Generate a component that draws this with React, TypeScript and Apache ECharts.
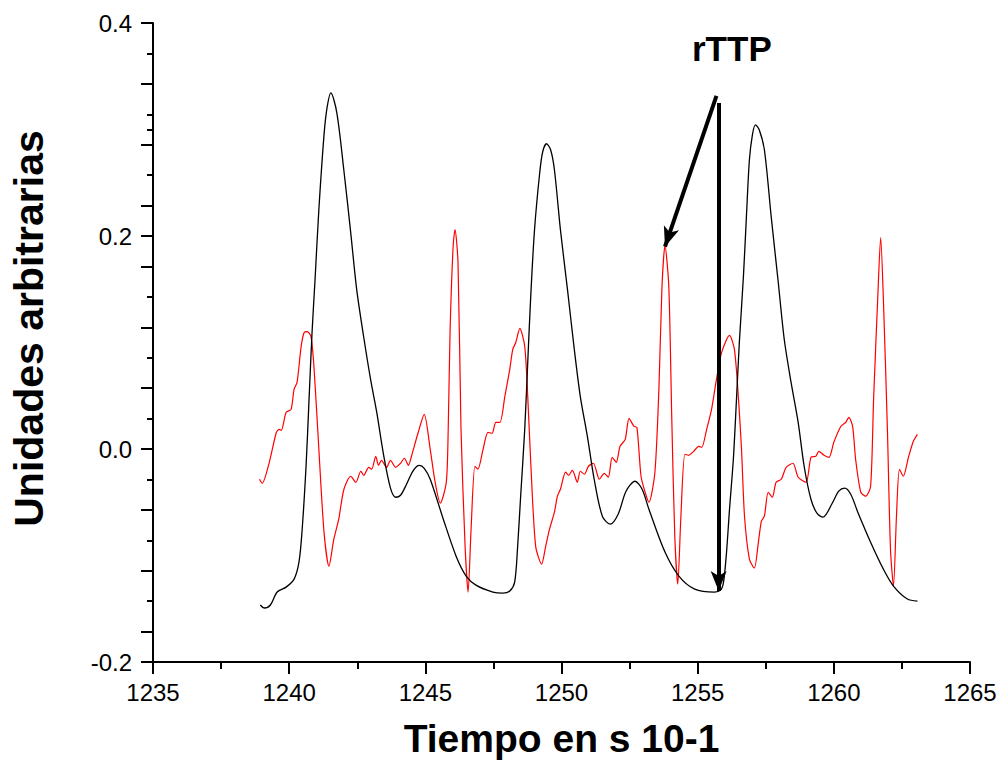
import React, { useEffect, useRef } from "react";
import * as echarts from "echarts";

const FONT = "'Liberation Sans', Arial, Helvetica, sans-serif";

// x (Tiempo en s 10-1), y (Unidades arbitrarias) — black curve
const blackX = [
  1238.94, 1239.09, 1239.31, 1239.56, 1239.89, 1240.18, 1240.36, 1240.47, 1240.62, 1240.73,
  1240.84, 1240.95, 1241.09, 1241.28, 1241.39, 1241.53, 1241.75, 1242.01, 1242.26, 1242.48,
  1242.74, 1242.99, 1243.21, 1243.47, 1243.72, 1243.91, 1244.09, 1244.31, 1244.56, 1244.78,
  1244.96, 1245.18, 1245.66, 1246.13, 1246.5, 1246.86, 1247.48, 1247.85, 1248.1, 1248.28,
  1248.39, 1248.5, 1248.65, 1248.76, 1248.87, 1249.01, 1249.2, 1249.31, 1249.45, 1249.6,
  1249.74, 1249.96, 1250.22, 1250.47, 1250.69, 1250.95, 1251.2, 1251.5, 1251.79, 1252.08,
  1252.37, 1252.7, 1252.96, 1253.21, 1253.8, 1254.31, 1254.89, 1255.62, 1255.84, 1255.95,
  1256.06, 1256.17, 1256.31, 1256.42, 1256.53, 1256.68, 1256.79, 1256.9, 1257.01, 1257.12,
  1257.26, 1257.45, 1257.7, 1257.96, 1258.18, 1258.43, 1258.69, 1258.91, 1259.16, 1259.38,
  1259.6, 1259.96, 1260.18, 1260.4, 1260.62, 1260.88, 1261.35, 1261.82, 1262.19, 1262.7,
  1263.07,
];
const blackY = [
  -0.1465, -0.1493, -0.1465, -0.1343, -0.1297, -0.1222, -0.1062, -0.0781, -0.0162, 0.0466,
  0.1094, 0.159, 0.2247, 0.295, 0.3203, 0.3344, 0.3157, 0.2613, 0.2032, 0.1497,
  0.1047, 0.0653, 0.0353, -0.0059, -0.0368, -0.0453, -0.0434, -0.0331, -0.02, -0.0153,
  -0.0181, -0.0284, -0.0659, -0.1006, -0.1193, -0.1278, -0.1343, -0.1353, -0.1334, -0.125,
  -0.0912, -0.0443, 0.0185, 0.0813, 0.1432, 0.206, 0.2594, 0.2791, 0.2866, 0.281,
  0.2622, 0.206, 0.1497, 0.0935, 0.0494, 0.0119, -0.0284, -0.0631, -0.0706, -0.0612,
  -0.0396, -0.0303, -0.0378, -0.0565, -0.0968, -0.1193, -0.1315, -0.1343, -0.1325, -0.125,
  -0.0968, -0.0565, -0.0097, 0.0438, 0.1, 0.1619, 0.2182, 0.2716, 0.295, 0.3044,
  0.2997, 0.281, 0.2182, 0.1563, 0.1028, 0.0625, 0.025, -0.0162, -0.0472, -0.0603,
  -0.064, -0.05, -0.0396, -0.0368, -0.0425, -0.0593, -0.0875, -0.1128, -0.1287, -0.1409,
  -0.1428,
];

// red curve
const redX = [
  1238.91, 1239.01, 1239.27, 1239.53, 1239.64, 1239.71, 1239.89, 1240.07, 1240.18, 1240.29,
  1240.44, 1240.55, 1240.66, 1240.8, 1240.91, 1241.09, 1241.28, 1241.46, 1241.64, 1241.82,
  1242.01, 1242.26, 1242.45, 1242.63, 1242.74, 1242.92, 1243.03, 1243.18, 1243.28, 1243.39,
  1243.58, 1243.72, 1243.91, 1244.09, 1244.23, 1244.38, 1244.49, 1244.74, 1244.96, 1245.18,
  1245.36, 1245.55, 1245.77, 1245.84, 1245.91, 1246.02, 1246.09, 1246.2, 1246.31, 1246.46,
  1246.57, 1246.68, 1246.82, 1246.93, 1247.12, 1247.3, 1247.45, 1247.59, 1247.74, 1247.92,
  1248.1, 1248.21, 1248.32, 1248.47, 1248.65, 1248.76, 1248.87, 1249.05, 1249.27, 1249.42,
  1249.56, 1249.74, 1249.85, 1249.96, 1250.15, 1250.26, 1250.4, 1250.58, 1250.69, 1250.84,
  1250.99, 1251.17, 1251.39, 1251.57, 1251.72, 1251.86, 1252.01, 1252.15, 1252.34, 1252.48,
  1252.66, 1252.77, 1252.92, 1253.07, 1253.21, 1253.43, 1253.58, 1253.69, 1253.8, 1253.94,
  1254.05, 1254.16, 1254.27, 1254.38, 1254.53, 1254.67, 1254.85, 1255.04, 1255.15, 1255.33,
  1255.51, 1255.69, 1255.88, 1256.17, 1256.35, 1256.5, 1256.61, 1256.72, 1256.9, 1257.08,
  1257.23, 1257.34, 1257.45, 1257.59, 1257.74, 1257.88, 1258.07, 1258.25, 1258.5, 1258.69,
  1258.98, 1259.16, 1259.34, 1259.45, 1259.64, 1259.82, 1260.0, 1260.26, 1260.44, 1260.55,
  1260.69, 1260.8, 1260.99, 1261.17, 1261.35, 1261.46, 1261.61, 1261.72, 1261.82, 1261.97,
  1262.08, 1262.19, 1262.3, 1262.41, 1262.55, 1262.74, 1262.92, 1263.07,
];
const redY = [
  -0.0284, -0.0322, -0.0125, 0.0157, 0.0185, 0.0175, 0.0344, 0.0372, 0.056, 0.0625,
  0.0963, 0.1094, 0.1103, 0.1057, 0.0775, -0.0003, -0.0781, -0.11, -0.0847, -0.0659,
  -0.0378, -0.0256, -0.0312, -0.0209, -0.0247, -0.0172, -0.019, -0.0068, -0.0153, -0.0106,
  -0.0172, -0.0106, -0.0172, -0.0134, -0.0087, -0.0153, -0.0068, 0.0157, 0.0325, -0.0003,
  -0.0312, -0.0509, -0.0312, 0.0185, 0.1122, 0.19, 0.206, 0.175, 0.0185, -0.0912,
  -0.1343, -0.0753, -0.0162, -0.019, -0.0003, 0.0157, 0.0147, 0.025, 0.025, 0.0494,
  0.0747, 0.0935, 0.1, 0.1132, 0.0963, 0.0494, -0.0125, -0.0912, -0.1081, -0.0912,
  -0.0753, -0.0593, -0.0443, -0.0378, -0.0218, -0.0247, -0.02, -0.0312, -0.0209, -0.0237,
  -0.0162, -0.0134, -0.0284, -0.0228, -0.0265, -0.0078, -0.0125, 0.0025, 0.0091, 0.0288,
  0.0213, 0.0203, -0.0256, -0.0406, -0.05, -0.0218, 0.0588, 0.1525, 0.191, 0.1525,
  0.0278, -0.0818, -0.1268, -0.0659, -0.005, -0.0059, -0.0022, 0.0025, 0.0016, 0.0185,
  0.0372, 0.0653, 0.0907, 0.1066, 0.0935, 0.0466, -0.0003, -0.0631, -0.1034, -0.1118,
  -0.0875, -0.0678, -0.0631, -0.0406, -0.0453, -0.0312, -0.0284, -0.0172, -0.0134, -0.0265,
  -0.0312, -0.0078, -0.0068, -0.0022, -0.0059, -0.0078, 0.0063, 0.0213, 0.025, 0.0297,
  0.0213, -0.0097, -0.0406, -0.0443, -0.035, 0.0466, 0.1403, 0.1985, 0.1403, 0.0157,
  -0.094, -0.1287, -0.0631, -0.019, -0.0256, -0.0078, 0.0072, 0.0138,
];

// axis ticks
const xTickInterval = 5;
const yLabelInterval = 0.2;
const yLongTicks = [-0.2, -0.1714, -0.1143, -0.0571, 0, 0.0571, 0.1143, 0.1714, 0.2, 0.2286, 0.2857, 0.3429, 0.4];
const yShortTicks = [-0.1429, -0.0857, -0.0286, 0.0286, 0.0857, 0.1429, 0.2571, 0.3, 0.3143, 0.3714];

// annotation arrows (start / end in data coordinates)
const arrowLabel = "rTTP";
const arrowDiagonal = [[1255.69, 0.3316], [1253.8, 0.19]];
const arrowVertical = [[1255.77, 0.325], [1255.77, -0.1334]];

const zip = (xs: number[], ys: number[]) => xs.map((x, i) => [x, ys[i]]);

export default function App() {
  const ref = useRef<HTMLDivElement>(null);
  useEffect(() => {
    if (!ref.current) return;
    const chart = echarts.init(ref.current, undefined, { renderer: "svg" });
    const black = "#000000";
    const tickStyle = { color: black, width: 2 };
    chart.setOption({
      animation: false,
      backgroundColor: "#ffffff",
      textStyle: { fontFamily: FONT },
      grid: { left: 148, right: 32, top: 23, bottom: 101, containLabel: false },
      xAxis: {
        type: "value",
        min: 1235,
        max: 1265,
        interval: xTickInterval,
        splitLine: { show: false },
        axisLine: { onZero: false, lineStyle: { color: black, width: 2 } },
        axisTick: { show: true, length: 12, lineStyle: tickStyle },
        minorTick: { show: true, splitNumber: 2, length: 7, lineStyle: tickStyle },
        minorSplitLine: { show: false },
        axisLabel: {
          fontSize: 24,
          color: black,
          margin: 18,
          fontFamily: FONT,
          formatter: (v: number) => String(Math.round(v)),
        },
        name: "Tiempo en s 10-1",
        nameLocation: "middle",
        nameGap: 57,
        nameTextStyle: { fontSize: 39, fontWeight: "bold", color: black, fontFamily: FONT },
      },
      yAxis: [
        {
          type: "value",
          min: -0.2,
          max: 0.4,
          interval: yLabelInterval,
          splitLine: { show: false },
          axisLine: { onZero: false, lineStyle: { color: black, width: 2 } },
          axisTick: { show: true, length: 12, lineStyle: tickStyle, customValues: yLongTicks },
          axisLabel: {
            fontSize: 24,
            color: black,
            margin: 21,
            fontFamily: FONT,
            formatter: (v: number) => v.toFixed(1),
          },
          name: "Unidades arbitrarias",
          nameLocation: "middle",
          nameGap: 104,
          nameTextStyle: {
            fontSize: 41,
            fontWeight: "bold",
            color: black,
            fontFamily: FONT,
            padding: [0, 0, 0, 28],
          },
        },
        {
          type: "value",
          min: -0.2,
          max: 0.4,
          interval: yLabelInterval,
          position: "left",
          splitLine: { show: false },
          axisLine: { show: false },
          axisLabel: { show: false },
          axisTick: { show: true, length: 6, lineStyle: tickStyle, customValues: yShortTicks },
        },
      ],
      graphic: [
        {
          type: "text",
          left: 692,
          top: 31,
          style: { text: arrowLabel, font: `bold 35px ${FONT}`, fill: black },
        },
      ],
      series: [
        {
          type: "line",
          name: "red",
          data: zip(redX, redY),
          showSymbol: false,
          smooth: 0.25,
          lineStyle: { color: "#ff0000", width: 1.2 },
          z: 2,
        },
        {
          type: "line",
          name: "black",
          data: zip(blackX, blackY),
          showSymbol: false,
          smooth: 0.3,
          lineStyle: { color: black, width: 1.3 },
          z: 3,
          markLine: {
            silent: true,
            symbol: ["none", "arrow"],
            symbolSize: [12, 20],
            label: { show: false },
            lineStyle: { color: black, width: 4, type: "solid" },
            data: [
              [{ coord: arrowDiagonal[0] }, { coord: arrowDiagonal[1] }],
              [{ coord: arrowVertical[0] }, { coord: arrowVertical[1] }],
            ],
          },
        },
      ],
    });
    return () => chart.dispose();
  }, []);
  return (
    <div
      ref={ref}
      style={{ position: "fixed", left: 0, top: 0, width: 1002, height: 763, background: "#fff" }}
    />
  );
}
